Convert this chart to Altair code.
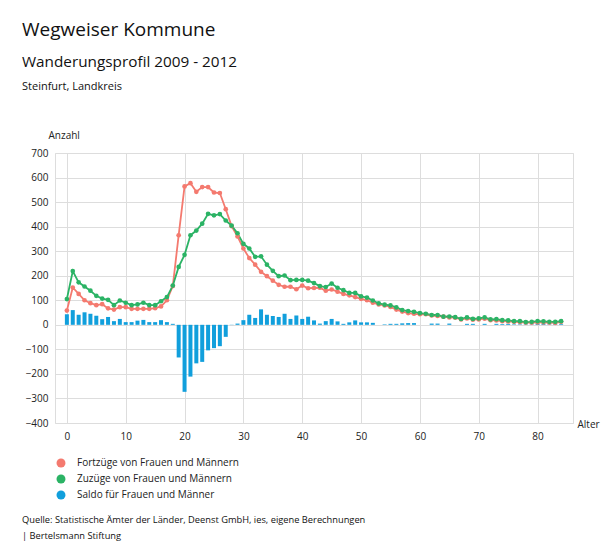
import altair as alt
import pandas as pd

ages = list(range(0, 85))

fortzuege = [58, 152, 126, 100, 88, 80, 84, 67, 62, 72, 72, 65, 65, 65, 65, 68, 75, 100, 158, 365,
             564, 577, 542, 561, 561, 539, 537, 471, 402, 360, 311, 272, 245, 216, 198, 180, 163, 155, 155, 145,
             160, 149, 150, 151, 139, 144, 135, 126, 120, 113, 106, 100, 90, 83, 79, 73, 62, 54, 48, 45,
             43, 43, 38, 36, 33, 30, 29, 22, 26, 21, 22, 25, 19, 18, 15, 14, 12, 11, 9, 9,
             10, 10, 9, 8, 12]

zuzuege = [105, 219, 173, 156, 139, 118, 107, 102, 80, 99, 90, 80, 83, 90, 80, 80, 96, 113, 160, 236,
           285, 365, 384, 412, 452, 446, 451, 425, 404, 373, 330, 311, 277, 279, 245, 220, 198, 201, 182, 183,
           183, 180, 170, 158, 154, 168, 151, 141, 130, 130, 116, 111, 99, 87, 82, 79, 71, 60, 56, 53,
           48, 45, 40, 40, 33, 34, 31, 24, 30, 24, 26, 30, 22, 23, 19, 18, 15, 15, 11, 12,
           15, 14, 12, 12, 15]

saldo = [43, 60, 41, 51, 45, 37, 23, 32, 15, 24, 11, 11, 17, 20, 11, 11, 19, 11, 4, -133,
         -273, -211, -157, -151, -104, -95, -87, -49, -1, 5, 19, 41, 28, 63, 41, 36, 32, 45, 24, 38,
         24, 33, 18, 5, 15, 24, 14, 4, 10, 18, 10, 10, 8, 0, 2, 4, 4, 6, 7, 7,
         0, 0, 5, 5, 0, 5, 0, 0, 4, 4, 0, 4, 0, 4, 3, 4, 2, 2, 2, 2,
         5, 4, 2, 3, 3]

series_names = ["Fortzüge von Frauen und Männern", "Zuzüge von Frauen und Männern", "Saldo für Frauen und Männer"]
series_colors = ["#f47a6f", "#2bb365", "#119fdc"]

x_ticks = [0, 10, 20, 30, 40, 50, 60, 70, 80]
y_ticks = [-400, -300, -200, -100, 0, 100, 200, 300, 400, 500, 600, 700]

title_text = "Wegweiser Kommune"
subtitle_text = "Wanderungsprofil 2009 - 2012"
region_text = "Steinfurt, Landkreis"
source_lines = ["Quelle: Statistische Ämter der Länder, Deenst GmbH, ies, eigene Berechnungen",
                "| Bertelsmann Stiftung"]

FONT = "Open Sans"

lines_df = pd.concat([
    pd.DataFrame({"Alter": ages, "Anzahl": fortzuege, "Serie": series_names[0]}),
    pd.DataFrame({"Alter": ages, "Anzahl": zuzuege, "Serie": series_names[1]}),
])
bars_df = pd.DataFrame({"Alter": ages, "Anzahl": saldo, "Serie": series_names[2]})

color_scale = alt.Scale(domain=series_names, range=series_colors)
x_scale = alt.Scale(domain=[-1.17, 85.17], nice=False, zero=False)
y_scale = alt.Scale(domain=[-400, 700], nice=False)

legend = alt.Legend(
    title=None, orient="none", legendX=1, legendY=305, direction="vertical",
    symbolType="circle", symbolSize=80, symbolStrokeWidth=0,
    labelFont=FONT, labelFontSize=10, labelColor="#222", rowPadding=6, labelOffset=11,
    labelLimit=400,
)

x_axis = alt.Axis(values=x_ticks, title="Alter", domain=False, ticks=False,
                  labelPadding=8, labelFontSize=10, labelFont=FONT, labelColor="#222",
                  labelOverlap=False,
                  gridColor="#dddddd", titleFont=FONT, titleFontSize=10, titleFontWeight="normal",
                  titleColor="#222", titleAngle=0, titleAlign="left", titleBaseline="middle",
                  titleX=522, titleY=1)
y_axis = alt.Axis(values=y_ticks, title="Anzahl", domain=False, ticks=False,
                  labelPadding=7, labelFontSize=10, labelFont=FONT, labelColor="#222",
                  labelOverlap=False,
                  gridColor="#dddddd", titleFont=FONT, titleFontSize=10, titleFontWeight="normal",
                  titleColor="#222", titleAngle=0, titleAlign="left", titleBaseline="middle",
                  titleX=-7, titleY=-18)

x_enc = alt.X("Alter:Q", scale=x_scale, axis=x_axis)
y_enc = alt.Y("Anzahl:Q", scale=y_scale, axis=y_axis)
color_enc = alt.Color("Serie:N", scale=color_scale, legend=legend)

bars = alt.Chart(bars_df).mark_bar(size=4).encode(
    x=x_enc, y=y_enc, color=color_enc,
)
line = alt.Chart(lines_df).mark_line(strokeWidth=1.8).encode(
    x=x_enc, y=y_enc, color=color_enc,
)
pts = alt.Chart(lines_df).mark_point(filled=True, size=22, opacity=1, strokeWidth=0).encode(
    x=x_enc, y=y_enc, color=color_enc,
)

def label(txt, x, y, size, color="#111"):
    return alt.Chart(pd.DataFrame({"t": [txt]})).mark_text(
        align="left", baseline="middle", font=FONT, fontSize=size, color=color
    ).encode(text="t:N", x=alt.value(x), y=alt.value(y))

texts = [
    label(title_text, -33, -123, 19),
    label(subtitle_text, -33, -91, 15.3),
    label(region_text, -33, -66, 11),
    label(source_lines[0], -33, 367, 9.3),
    label(source_lines[1], -33, 383, 9.3),
]

chart = alt.layer(bars, line, pts, *texts).properties(
    width=518, height=270,
    autosize=alt.AutoSizeParams(type="none"),
    padding={"left": 47, "top": 145, "right": 28, "bottom": 119},
).configure_view(stroke=None).configure(background="white")

chart.save("out.html", embed_options={"renderer": "svg", "actions": False})
